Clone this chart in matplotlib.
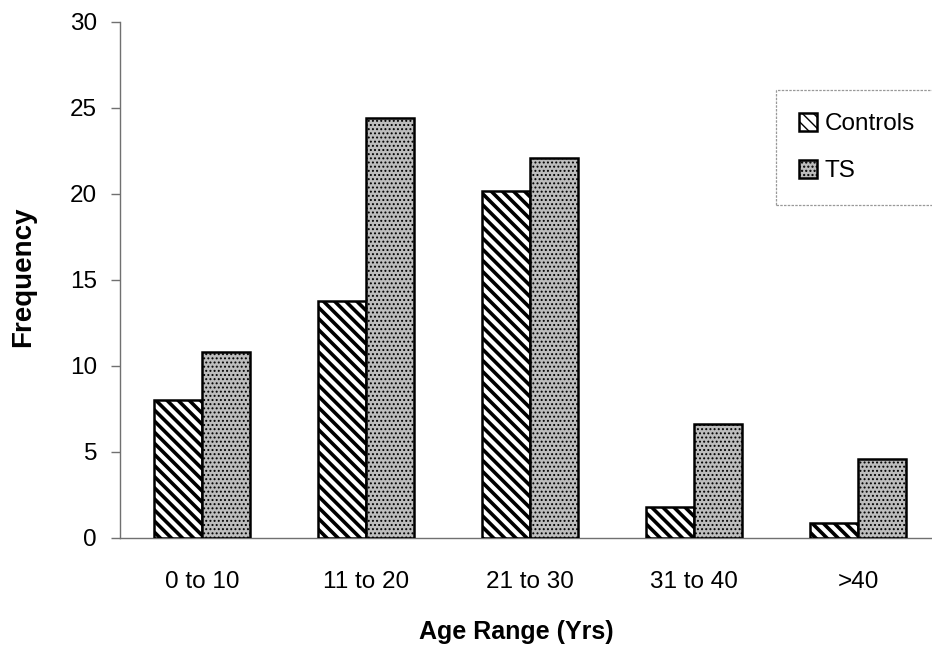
import matplotlib
matplotlib.use("Agg")
import matplotlib.pyplot as plt
import numpy as np

# Age-group frequencies
age_ranges = ["0 to 10", "11 to 20", "21 to 30", "31 to 40", ">40"]
controls = [8.0, 13.8, 20.2, 1.8, 0.9]
ts = [10.8, 24.4, 22.1, 6.6, 4.6]
y_ticks = [0, 5, 10, 15, 20, 25, 30]

plt.rcParams["font.family"] = ["Liberation Sans", "DejaVu Sans"]

W, H = 932, 652
fig = plt.figure(figsize=(W / 100, H / 100), dpi=100)
ax = fig.add_axes([120 / W, (H - 538) / H, 820 / W, (538 - 22) / H])

x = np.arange(len(age_ranges))
bw = 0.29

# Controls: bold diagonal stripes
with plt.rc_context({"hatch.linewidth": 2.6}):
    bars_c = ax.bar(x - bw / 2, controls, width=bw, facecolor="white",
                    edgecolor="black", linewidth=1.8, hatch="\\" * 3,
                    label="Controls", zorder=3)

# TS: fine dark speckle on grey
with plt.rc_context({"hatch.linewidth": 0.9}):
    bars_t = ax.bar(x + bw / 2, ts, width=bw, facecolor="#bdbdbd",
                    edgecolor="black", linewidth=1.8, hatch="....",
                    label="TS", zorder=3)

ax.set_xlim(-0.5, 4.5)
ax.set_ylim(0, 30)
ax.set_yticks(y_ticks)
ax.set_xticks(x)
ax.set_xticklabels(age_ranges)

for side in ("top", "right"):
    ax.spines[side].set_visible(False)
for side in ("left", "bottom"):
    ax.spines[side].set_color("#707070")
    ax.spines[side].set_linewidth(1.0)

ax.tick_params(axis="y", direction="out", length=6.5, width=1.0,
               color="#707070", pad=10, labelsize=17.5)
ax.tick_params(axis="x", length=0, pad=24, labelsize=17.5)

fig.text(23 / W, 1 - 277 / H, "Frequency", rotation=90, ha="center",
         va="center", fontsize=20, fontweight="bold")
fig.text(516 / W, 1 - 632 / H, "Age Range (Yrs)", ha="center", va="center",
         fontsize=18, fontweight="bold")

leg = ax.legend(loc="upper left", bbox_to_anchor=(776 / W, 1 - 90 / H),
                bbox_transform=fig.transFigure, borderaxespad=0,
                frameon=True, fancybox=False, shadow=False,
                fontsize=17.5, handlelength=0.75, handleheight=0.75,
                handletextpad=0.3, labelspacing=1.0, borderpad=0.95)
frame = leg.get_frame()
frame.set_edgecolor("#808080")
frame.set_linewidth(0.9)
frame.set_linestyle((0, (2, 1)))

fig.savefig("out.png", dpi=100)
